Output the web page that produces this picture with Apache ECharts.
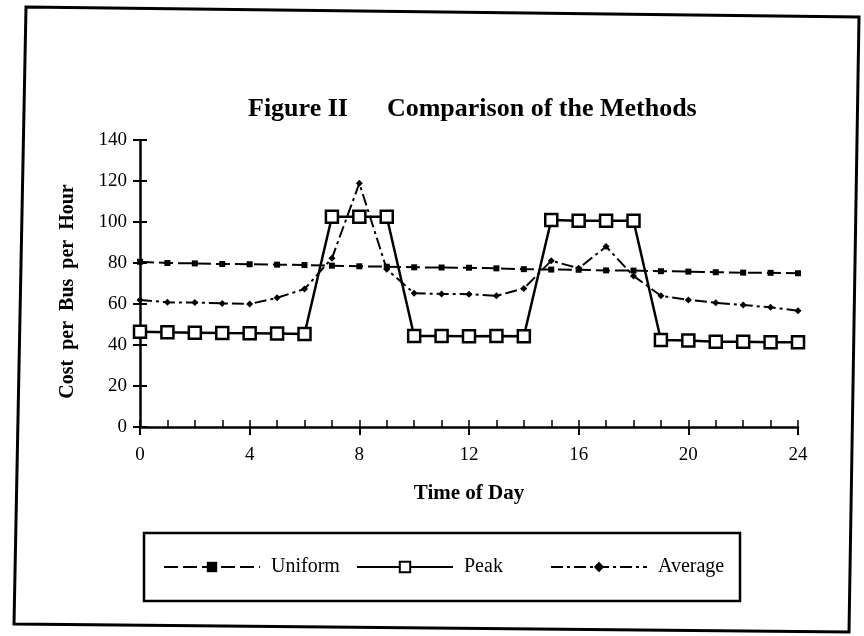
<!DOCTYPE html>
<html>
<head>
<meta charset="utf-8">
<script src="https://cdn.jsdelivr.net/npm/echarts@6/dist/echarts.min.js"></script>
<style>
html,body{margin:0;padding:0;background:#fff;}
#c{width:864px;height:636px;}
</style>
</head>
<body>
<div id="c"></div>
<script>
const hours = [0,1,2,3,4,5,6,7,8,9,10,11,12,13,14,15,16,17,18,19,20,21,22,23,24];
const xTicks = [0,4,8,12,16,20,24];
const yTicks = [0,20,40,60,80,100,120,140];
const uniform = [80.6,80,79.8,79.5,79.4,79.2,79,78.7,78.4,78.2,77.9,77.8,77.7,77.4,77,76.8,76.7,76.4,76.3,76,75.8,75.5,75.3,75.2,75];
const peak = [46.5,46.2,46,45.8,45.7,45.6,45.4,102.6,102.6,102.6,44.4,44.4,44.3,44.4,44.3,101,100.6,100.6,100.6,42.4,42.2,41.6,41.6,41.3,41.3];
const average = [62,60.8,60.7,60.3,60,63,67.3,82.3,118.9,77,65.2,64.9,64.8,64,67.6,81.1,77.4,88,73.7,64,62,60.6,59.5,58.4,56.7];

const serif = '"Liberation Serif", "DejaVu Serif", serif';
const pairs = arr => hours.map((h, i) => [h, arr[i]]);

function legendFor(name, left) {
  return {
    left: left, top: 557, padding: 0,
    itemWidth: 96, itemHeight: 13,
    textStyle: {fontFamily: serif, fontSize: 20, color: '#000', padding: [4, 0, 0, 6]},
    data: [name]
  };
}

const chart = echarts.init(document.getElementById('c'), null, {renderer: 'canvas'});
chart.setOption({
  backgroundColor: '#fff',
  animation: false,
  title: {
    text: 'Figure II      Comparison of the Methods',
    left: 243, top: 91,
    textStyle: {fontFamily: serif, fontWeight: 'bold', fontSize: 26, color: '#000'}
  },
  grid: {left: 140, top: 140, width: 658, height: 287, containLabel: false},
  legend: [legendFor('Uniform', 163), legendFor('Peak', 356), legendFor('Average', 550)],
  xAxis: [{
    type: 'value', min: 0, max: 24, interval: 4,
    name: 'Time of Day', nameLocation: 'middle', nameGap: 56,
    nameTextStyle: {fontFamily: serif, fontWeight: 'bold', fontSize: 21, color: '#000'},
    axisLine: {show: true, lineStyle: {color: '#000', width: 2.5}},
    axisTick: {show: true, inside: false, length: 8, lineStyle: {color: '#000', width: 2}},
    axisLabel: {fontFamily: serif, fontSize: 19, color: '#000', margin: 19,
      formatter: v => xTicks.indexOf(v) >= 0 ? String(v) : ''},
    splitLine: {show: false}
  }, {
    type: 'value', min: 0, max: 24, interval: 1, position: 'bottom',
    axisLine: {show: false},
    axisTick: {show: true, inside: true, length: 7, lineStyle: {color: '#000', width: 1.5}},
    axisLabel: {show: false},
    splitLine: {show: false}
  }],
  yAxis: [{
    type: 'value', min: 0, max: 140, interval: 20,
    name: 'Cost  per  Bus  per  Hour', nameLocation: 'middle', nameGap: 62, nameRotate: 90,
    nameTextStyle: {fontFamily: serif, fontWeight: 'bold', fontSize: 20, color: '#000', padding: [0, 16, 0, 0]},
    axisLine: {show: true, lineStyle: {color: '#000', width: 2.5}},
    axisTick: {show: true, inside: false, length: 7, lineStyle: {color: '#000', width: 2}},
    axisLabel: {fontFamily: serif, fontSize: 19, color: '#000', margin: 13,
      formatter: v => yTicks.indexOf(v) >= 0 ? String(v) : ''},
    splitLine: {show: false}
  }, {
    type: 'value', min: 0, max: 140, interval: 20, position: 'left',
    axisLine: {show: false},
    axisTick: {show: true, inside: true, length: 7, lineStyle: {color: '#000', width: 2}},
    axisLabel: {show: false},
    splitLine: {show: false}
  }],
  series: [{
    name: 'Uniform', type: 'line', data: pairs(uniform),
    symbol: 'rect', symbolSize: 6,
    itemStyle: {color: '#000'},
    lineStyle: {color: '#000', width: 2, type: [14, 5]}
  }, {
    name: 'Peak', type: 'line', data: pairs(peak),
    symbol: 'rect', symbolSize: 12, showAllSymbol: true,
    itemStyle: {color: '#fff', borderColor: '#000', borderWidth: 2.5},
    lineStyle: {color: '#000', width: 2.5}
  }, {
    name: 'Average', type: 'line', data: pairs(average),
    symbol: 'diamond', symbolSize: 7,
    itemStyle: {color: '#000'},
    lineStyle: {color: '#000', width: 2, type: [12, 4, 3, 4]}
  }],
  graphic: [{
    type: 'polygon',
    shape: {points: [[26, 7], [859, 17], [849, 632], [14, 624]]},
    style: {fill: null, stroke: '#000', lineWidth: 3}
  }, {
    type: 'rect',
    shape: {x: 144, y: 533, width: 596, height: 68},
    style: {fill: null, stroke: '#000', lineWidth: 2.5}
  }]
});
</script>
</body>
</html>
